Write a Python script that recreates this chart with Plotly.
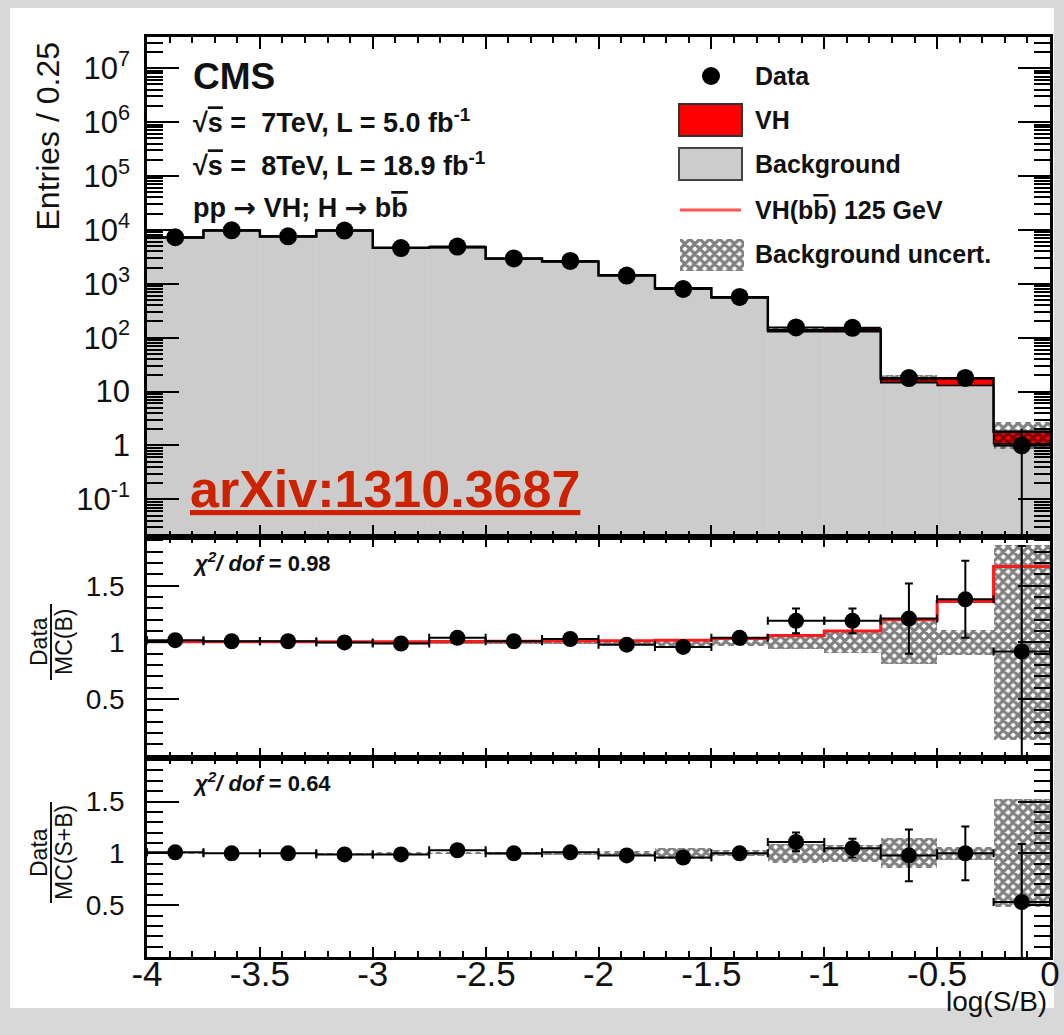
import numpy as np
import plotly.graph_objects as go

# ---------------- data ----------------
bin_edges = [-4.0, -3.75, -3.5, -3.25, -3.0, -2.75, -2.5, -2.25, -2.0,
             -1.75, -1.5, -1.25, -1.0, -0.75, -0.5, -0.25, 0.0]

data_counts = [7300, 9800, 7600, 9700, 4600, 4900, 2950, 2650, 1420, 800,
               570, 155, 152, 17.8, 17.9, 1.0]
data_err_up = [85, 99, 87, 98, 68, 70, 54, 51, 38, 28, 24, 12.4, 12.3, 4.2, 4.2, 1.0]
data_err_dn = [85, 99, 87, 98, 68, 70, 54, 51, 38, 28, 24, 12.4, 12.3, 4.2, 4.2, 0.99]

background = [7150, 9700, 7500, 9700, 4650, 4700, 2920, 2550, 1420, 810,
              545, 129, 128, 14.6, 13.0, 1.07]
signal_vh = [36, 48, 38, 48, 28, 38, 29, 31, 21, 16, 19, 8, 13, 2.9, 4.7, 0.72]

# Data / MC(B)
ratio_b = [1.02, 1.01, 1.01, 1.00, 0.99, 1.04, 1.01, 1.03, 0.98, 0.96,
           1.04, 1.19, 1.19, 1.21, 1.38, 0.92]
ratio_b_err = [0.012, 0.01, 0.012, 0.01, 0.015, 0.015, 0.019, 0.02, 0.027,
               0.035, 0.044, 0.11, 0.11, 0.31, 0.34, 0.93]
sb_over_b = [1.005, 1.005, 1.005, 1.005, 1.006, 1.008, 1.01, 1.012, 1.015,
             1.02, 1.035, 1.06, 1.10, 1.20, 1.36, 1.67]
unc_b = [0.008, 0.008, 0.008, 0.008, 0.01, 0.01, 0.012, 0.014, 0.016,
         0.03, 0.03, 0.06, 0.09, 0.19, 0.11, 0.86]

# Data / MC(S+B)
ratio_sb = [1.01, 1.00, 1.00, 0.99, 0.99, 1.03, 1.00, 1.01, 0.98, 0.96,
            1.00, 1.11, 1.05, 0.98, 1.00, 0.53]
ratio_sb_err = [0.012, 0.01, 0.012, 0.01, 0.015, 0.015, 0.019, 0.02, 0.027,
                0.035, 0.042, 0.09, 0.09, 0.25, 0.26, 0.56]
unc_sb = [0.008, 0.008, 0.008, 0.008, 0.01, 0.01, 0.012, 0.014, 0.018,
          0.05, 0.03, 0.09, 0.08, 0.145, 0.065, 0.52]

top_tick_vals = [0.1, 1, 10, 100, 1e3, 1e4, 1e5, 1e6, 1e7]
top_tick_text = ["10<sup>-1</sup>", "1", "10", "10<sup>2</sup>", "10<sup>3</sup>",
                 "10<sup>4</sup>", "10<sup>5</sup>", "10<sup>6</sup>", "10<sup>7</sup>"]
x_tick_vals = [-4, -3.5, -3, -2.5, -2, -1.5, -1, -0.5, 0]
x_tick_text = ["-4", "-3.5", "-3", "-2.5", "-2", "-1.5", "-1", "-0.5", "0"]
ratio_tick_vals = [0.5, 1, 1.5]
ratio_tick_text = ["0.5", "1", "1.5"]

# ---------------- geometry helpers ----------------
W, H = 1064, 1035
ML, MR, MT, MB = 147, 14, 37, 78
PW = W - ML - MR
PH = H - MT - MB


def px(x):
    return (x - ML) / PW


def py(y):
    return (H - MB - y) / PH


FONT = "Liberation Sans, Arial, Helvetica, sans-serif"

edges = np.array(bin_edges)
centers = (edges[:-1] + edges[1:]) / 2
widths = edges[1:] - edges[:-1]
half_w = widths / 2

bkg = np.array(background)
sig = np.array(signal_vh)
tot = bkg + sig
u_sb = np.array(unc_sb)
u_b = np.array(unc_b)


def step_y(vals):
    v = list(vals)
    return v + [v[-1]]


HATCH = dict(shape="x", fgcolor="black", bgcolor="rgba(0,0,0,0)", size=7,
             solidity=0.7, fillmode="overlay")

fig = go.Figure()

# ---------- top panel ----------
fig.add_trace(go.Bar(x=centers, y=bkg, width=widths, xaxis="x", yaxis="y",
                     marker=dict(color="#cccccc", line=dict(color="#cccccc", width=0.6))))
fig.add_trace(go.Bar(x=centers, y=sig, base=bkg, width=widths, xaxis="x", yaxis="y",
                     marker=dict(color="#ff0000", line=dict(width=0))))
fig.add_trace(go.Bar(x=centers, y=2 * u_sb * tot, base=tot * (1 - u_sb), width=widths,
                     xaxis="x", yaxis="y",
                     marker=dict(color="rgba(0,0,0,0)", pattern=HATCH, line=dict(width=0))))
fig.add_trace(go.Scatter(x=edges, y=step_y(bkg), mode="lines", xaxis="x", yaxis="y",
                         line=dict(shape="hv", color="black", width=1.5)))
fig.add_trace(go.Scatter(x=edges, y=step_y(tot), mode="lines", xaxis="x", yaxis="y",
                         line=dict(shape="hv", color="black", width=2.5)))
fig.add_trace(go.Scatter(x=centers, y=data_counts, mode="markers", xaxis="x", yaxis="y",
                         marker=dict(size=18, color="black"),
                         error_y=dict(type="data", array=data_err_up, arrayminus=data_err_dn,
                                      color="black", thickness=2, width=0),
                         error_x=dict(type="data", array=half_w, color="black",
                                      thickness=2, width=0)))

# ---------- middle panel: Data / MC(B) ----------
fig.add_trace(go.Bar(x=centers, y=2 * u_b, base=1 - u_b, width=widths, xaxis="x2", yaxis="y2",
                     marker=dict(color="rgba(0,0,0,0)", pattern=HATCH, line=dict(width=0))))
fig.add_trace(go.Scatter(x=edges, y=step_y(sb_over_b), mode="lines", xaxis="x2", yaxis="y2",
                         line=dict(shape="hv", color="#ff1a1a", width=3)))
fig.add_trace(go.Scatter(x=centers, y=ratio_b, mode="markers", xaxis="x2", yaxis="y2",
                         marker=dict(size=16, color="black"),
                         error_y=dict(type="data", array=ratio_b_err, color="black",
                                      thickness=2, width=4),
                         error_x=dict(type="data", array=half_w, color="black",
                                      thickness=2, width=4)))

# ---------- bottom panel: Data / MC(S+B) ----------
fig.add_trace(go.Bar(x=centers, y=2 * u_sb, base=1 - u_sb, width=widths, xaxis="x3", yaxis="y3",
                     marker=dict(color="rgba(0,0,0,0)", pattern=HATCH, line=dict(width=0))))
fig.add_trace(go.Scatter(x=centers, y=ratio_sb, mode="markers", xaxis="x3", yaxis="y3",
                         marker=dict(size=16, color="black"),
                         error_y=dict(type="data", array=ratio_sb_err, color="black",
                                      thickness=2, width=4),
                         error_x=dict(type="data", array=half_w, color="black",
                                      thickness=2, width=4)))

# ---------- legend hatch swatch (on a hidden helper axis) ----------
fig.add_trace(go.Bar(x=[0.5], y=[1], width=[1], xaxis="x4", yaxis="y4",
                     marker=dict(color="rgba(0,0,0,0)", pattern=HATCH, line=dict(width=0))))

# ---------------- axes ----------------
frame = dict(showline=True, linecolor="black", linewidth=2.5, mirror="allticks",
             ticks="inside", tickcolor="black", tickwidth=2, showgrid=False,
             zeroline=False)

xcommon = dict(frame, range=[-4, 0], tickmode="array", tickvals=x_tick_vals,
               ticktext=x_tick_text,
               minor=dict(ticks="inside", ticklen=6, tickwidth=1.5, tickcolor="black",
                          tickmode="linear", tick0=-4, dtick=0.1, showgrid=False))

d_top = [py(537), 1.0]
d_mid = [py(758), py(537)]
d_bot = [0.0, py(758)]

log_minor = [m * 10.0 ** e for e in range(-2, 8) for m in range(2, 10)]

layout_axes = dict(
    xaxis=dict(xcommon, anchor="y", domain=[0, 1], ticklen=12, showticklabels=False),
    xaxis2=dict(xcommon, anchor="y2", domain=[0, 1], ticklen=10, showticklabels=False,
                matches="x"),
    xaxis3=dict(xcommon, anchor="y3", domain=[0, 1], ticklen=10, showticklabels=True,
                matches="x", ticklabelstandoff=-16,
                tickfont=dict(size=35, family=FONT, color="#111")),
    yaxis=dict(frame, type="log", domain=d_top, anchor="x", range=[-1.70, 7.58],
               tickmode="array", tickvals=top_tick_vals, ticktext=top_tick_text,
               ticklen=32, ticklabelstandoff=8,
               tickfont=dict(size=31, family=FONT, color="#111"),
               minor=dict(ticks="inside", ticklen=16, tickwidth=1.5, tickcolor="black",
                          tickmode="array", tickvals=log_minor, showgrid=False)),
    yaxis2=dict(frame, domain=d_mid, anchor="x2", range=[-0.02, 1.93],
                tickmode="array", tickvals=ratio_tick_vals, ticktext=ratio_tick_text,
                ticklen=32, ticklabelstandoff=14,
                tickfont=dict(size=28, family=FONT, color="#111"),
                minor=dict(ticks="inside", ticklen=16, tickwidth=1.5, tickcolor="black",
                           tickmode="linear", tick0=0, dtick=0.1, showgrid=False)),
    yaxis3=dict(frame, domain=d_bot, anchor="x3", range=[0.0, 1.92],
                tickmode="array", tickvals=ratio_tick_vals, ticktext=ratio_tick_text,
                ticklen=32, ticklabelstandoff=14,
                tickfont=dict(size=28, family=FONT, color="#111"),
                minor=dict(ticks="inside", ticklen=16, tickwidth=1.5, tickcolor="black",
                           tickmode="linear", tick0=0, dtick=0.1, showgrid=False)),
    xaxis4=dict(domain=[px(680), px(744)], anchor="y4", range=[0, 1], visible=False,
                fixedrange=True),
    yaxis4=dict(domain=[py(271), py(239)], anchor="x4", range=[0, 1], visible=False,
                fixedrange=True),
)


# ---------------- annotations ----------------
def ann(text, x, y, size, xanchor="left", yanchor="middle", color="#111", angle=0):
    return dict(text=text, x=px(x), y=py(y), xref="paper", yref="paper",
                xanchor=xanchor, yanchor=yanchor, showarrow=False, textangle=angle,
                font=dict(size=size, family=FONT, color=color))


OVL = "<span style='text-decoration:overline'>"
ARROW = "<span style='font-family:DejaVu Sans'>\u2192</span>"
annotations = [
    ann("Entries / 0.25", 47, 40, 32, xanchor="center", yanchor="top", angle=-90),
    ann("<b>CMS</b>", 191, 76, 37),
    ann("<b>\u221a" + OVL + "s</span> =  7TeV, L = 5.0 fb<sup>-1</sup></b>", 191, 121, 27),
    ann("<b>\u221a" + OVL + "s</span> =  8TeV, L = 18.9 fb<sup>-1</sup></b>", 191, 164, 27),
    ann("<b>pp " + ARROW + " VH; H " + ARROW + " b" + OVL + "b</span></b>", 191, 208, 27),
    ann("<b><u>arXiv:1310.3687</u></b>", 188, 489, 52, color="#cc2200"),
    # legend texts
    ann("<b>Data</b>", 753, 76, 25),
    ann("<b>VH</b>", 753, 120, 25),
    ann("<b>Background</b>", 753, 164, 25),
    ann("<b>VH(b" + OVL + "b</span>) 125 GeV</b>", 753, 210, 25),
    ann("<b>Background uncert.</b>", 753, 254, 25),
    # chi2 labels
    ann("<b><i>\u03c7<sup>2</sup>/ dof</i> = 0.98</b>", 191, 562, 22),
    ann("<b><i>\u03c7<sup>2</sup>/ dof</i> = 0.64</b>", 191, 782, 22),
    # ratio titles
    ann("Data", 39, 642, 23, xanchor="center", angle=-90),
    ann("MC(B)", 64, 642, 23, xanchor="center", angle=-90),
    ann("Data", 39, 853, 23, xanchor="center", angle=-90),
    ann("MC(S+B)", 64, 853, 23, xanchor="center", angle=-90),
    # x title
    ann("log(S/B)", 1049, 1001, 28, xanchor="right"),
]

shapes = [
    # white page on grey frame
    dict(type="rect", xref="paper", yref="paper", x0=px(10), x1=px(1054), y0=py(1008),
         y1=py(8), fillcolor="white", line=dict(width=0), layer="below"),
    # fraction bars of the ratio titles
    dict(type="line", xref="paper", yref="paper", x0=px(51), x1=px(51), y0=py(680),
         y1=py(604), line=dict(color="#111", width=2)),
    dict(type="line", xref="paper", yref="paper", x0=px(51), x1=px(51), y0=py(903),
         y1=py(802), line=dict(color="#111", width=2)),
    # legend swatches
    dict(type="circle", xref="paper", yref="paper", x0=px(702), x1=px(720), y0=py(85),
         y1=py(67), fillcolor="black", line=dict(color="black", width=0)),
    dict(type="rect", xref="paper", yref="paper", x0=px(679), x1=px(742), y0=py(136),
         y1=py(104), fillcolor="#ff0000", line=dict(color="#333", width=2)),
    dict(type="rect", xref="paper", yref="paper", x0=px(679), x1=px(742), y0=py(180),
         y1=py(148), fillcolor="#cccccc", line=dict(color="#444", width=2)),
    dict(type="line", xref="paper", yref="paper", x0=px(680), x1=px(741), y0=py(210),
         y1=py(210), line=dict(color="#ff5555", width=3)),
]

fig.update_layout(
    width=W, height=H,
    margin=dict(l=ML, r=MR, t=MT, b=MB, autoexpand=False),
    paper_bgcolor="#d8d8d8", plot_bgcolor="white",
    barmode="overlay", bargap=0, showlegend=False,
    font=dict(family=FONT, color="#111"),
    annotations=annotations, shapes=shapes,
    **layout_axes,
)

fig.write_html("out.html")
